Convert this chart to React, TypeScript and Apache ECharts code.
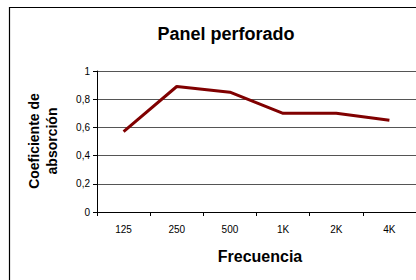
import React, { useEffect, useRef } from "react";
import * as echarts from "echarts";

const categories = ["125", "250", "500", "1K", "2K", "4K"];
const values = [0.57, 0.89, 0.85, 0.7, 0.7, 0.65];
const titleText = "Panel perforado";
const xName = "Frecuencia";
const yName = "Coeficiente de\nabsorción";

export default function App() {
  const ref = useRef<HTMLDivElement>(null);
  useEffect(() => {
    if (!ref.current) return;
    const chart = echarts.init(ref.current, null, { renderer: "svg" });
    const font = "Liberation Sans, Arial, sans-serif";
    chart.setOption({
      animation: false,
      backgroundColor: "#fff",
      textStyle: { fontFamily: font },
      title: {
        text: titleText,
        left: 221,
        top: 20,
        textAlign: "center",
        textStyle: { fontSize: 18, fontWeight: "bold", color: "#000", fontFamily: font },
      },
      graphic: [
        {
          type: "rect",
          shape: { x: 9.5, y: 7.5, width: 430, height: 300 },
          style: { fill: "none", stroke: "#000", lineWidth: 1.2 },
          silent: true,
        },
        {
          type: "text",
          x: 43,
          y: 141,
          rotation: Math.PI / 2,
          style: {
            text: yName,
            align: "center",
            verticalAlign: "middle",
            font: "bold 14px " + font,
            fill: "#000",
            lineHeight: 18,
          },
        },
        {
          type: "text",
          x: 260,
          y: 256,
          style: {
            text: xName,
            align: "center",
            verticalAlign: "middle",
            font: "bold 16px " + font,
            fill: "#000",
          },
        },
      ],
      grid: { left: 97, top: 71, width: 324, height: 141, containLabel: false },
      xAxis: {
        type: "category",
        data: categories,
        boundaryGap: true,
        axisLine: { lineStyle: { color: "#000", width: 1 } },
        axisTick: { show: true, length: 4, lineStyle: { color: "#000" } },
        axisLabel: { color: "#000", fontSize: 10, margin: 12, fontFamily: font },
        splitLine: { show: false },
      },
      yAxis: {
        type: "value",
        min: 0,
        max: 1,
        interval: 0.2,
        axisLine: { show: true, lineStyle: { color: "#000", width: 1 } },
        axisTick: { show: true, length: 4, lineStyle: { color: "#000" } },
        axisLabel: {
          color: "#000",
          fontSize: 10,
          margin: 7,
          fontFamily: font,
          formatter: (v: number) => (v === 0 || v === 1 ? String(v) : v.toFixed(1).replace(".", ",")),
        },
        splitLine: { show: true, lineStyle: { color: "#555", width: 1 } },
      },
      series: [
        {
          type: "line",
          data: values,
          symbol: "none",
          lineStyle: { color: "#800000", width: 3 },
          itemStyle: { color: "#800000" },
        },
      ],
    });
    return () => chart.dispose();
  }, []);
  return (
    <div
      ref={ref}
      style={{ position: "absolute", left: 0, top: 0, width: 416, height: 280 }}
    />
  );
}
